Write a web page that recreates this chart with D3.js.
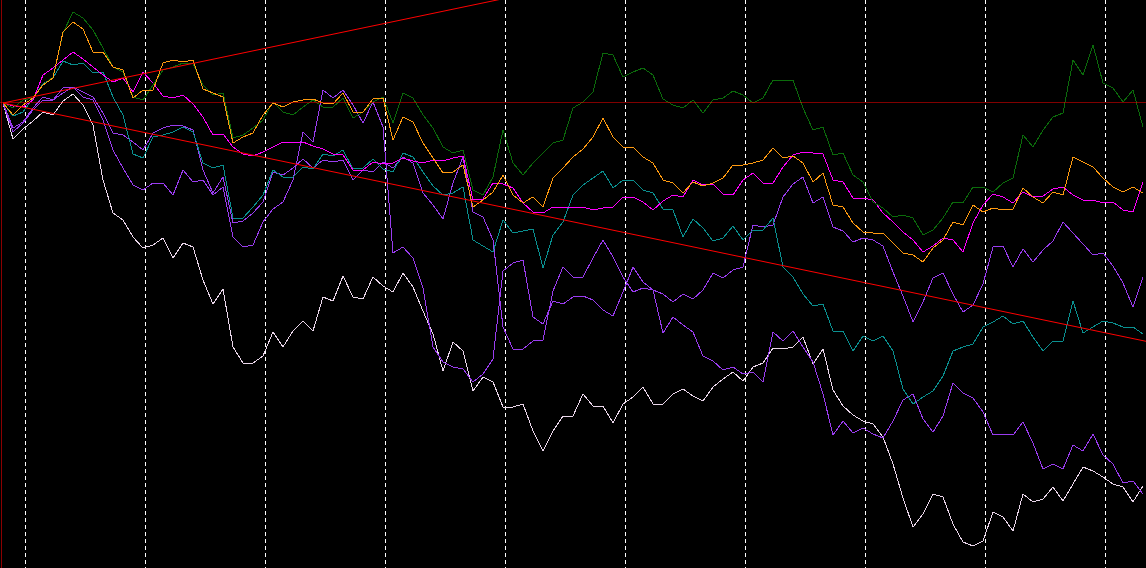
<!DOCTYPE html>
<html>
<style>
  body { margin: 0; background: #000; overflow: hidden; }
  .grid { stroke: #fff; stroke-width: 1; stroke-dasharray: 4,3; shape-rendering: crispEdges; }
  .series { fill: none; stroke-width: 1; shape-rendering: crispEdges; }
  .trend { stroke: #ff0000; stroke-width: 1; fill: none; }
  .zero { stroke: #ff0000; stroke-opacity: 0.5; stroke-width: 1; shape-rendering: crispEdges; }
</style>
<script src="https://d3js.org/d3.v7.min.js"></script>
<body>
<svg></svg>
<script>
// percent change from the start, one value every step (115 steps)
var green = [0,-0.5,0.3,0.5,1.8,2.6,7.0,9.1,8.5,7.3,5.5,3.6,3.1,0.6,0.3,1.8,3.3,3.6,4.0,
  3.9,1.8,0.8,1.0,-3.5,-3.2,-2.5,-1.7,0.1,-0.9,-1.2,-0.4,0.3,-0.4,-0.4,0.5,-1.5,-0.9,0.1,
  0.6,-2.0,1.0,0.5,-1.2,-2.5,-4.4,-5.0,-4.7,-8.7,-9.2,-7.4,-2.7,-6.0,-7.2,-6.0,-5.0,-4.0,-3.7,
  -0.5,0.1,1.1,5.0,4.8,2.6,3.1,3.5,2.8,0.4,-0.2,-0.5,0.3,-1.0,0.3,0.5,1.2,0.8,0.0,0.5,
  2.3,2.3,2.3,-0.5,-2.7,-2.4,-5.2,-5.0,-7.2,-7.9,-9.9,-10.5,-11.4,-11.2,-11.5,-13.2,-12.7,-11.5,-9.9,
  -10.0,-8.4,-8.4,-8.9,-8.0,-7.5,-3.2,-4.4,-2.7,-1.4,-1.0,4.3,2.8,5.8,2.0,1.5,0.1,1.3,-2.4];

var orange = [0,-1.2,-0.2,0.5,1.8,2.5,7.1,8.1,7.4,5.1,5.1,3.6,3.3,0.5,1.3,1.3,4.0,4.3,4.1,
  4.3,1.4,1.0,0.6,-4.0,-3.4,-3.0,-1.2,0.0,-0.4,0.1,0.3,0.4,0.0,-0.1,1.0,-0.9,-0.9,0.4,
  0.5,-3.7,-1.4,-1.9,-4.0,-5.5,-7.0,-6.9,-6.2,-10.4,-9.7,-8.9,-7.2,-9.2,-10.0,-9.4,-10.4,-7.5,-6.5,
  -5.4,-4.6,-3.4,-1.5,-3.4,-4.4,-4.4,-5.4,-6.0,-7.7,-8.0,-9.0,-7.9,-8.3,-8.0,-7.5,-6.2,-6.2,-6.0,-5.7,
  -4.5,-5.5,-5.3,-6.0,-7.9,-7.0,-10.2,-10.4,-12.0,-12.9,-13.0,-13.0,-14.0,-15.0,-15.2,-15.9,-14.5,-13.7,-11.9,
  -12.2,-10.2,-10.9,-10.5,-10.7,-10.6,-8.5,-9.4,-10.0,-8.9,-9.2,-5.4,-5.9,-6.4,-7.5,-8.4,-8.9,-8.4,-9.0];

var magenta = [0,-0.3,-0.4,0.3,2.8,3.5,4.3,5.1,4.4,3.6,2.8,2.1,2.5,1.1,3.1,2.0,0.7,0.5,0.8,
  -0.1,-1.4,-3.2,-3.1,-4.4,-5.1,-5.3,-4.9,-4.4,-3.9,-4.0,-3.9,-4.3,-4.6,-5.1,-5.2,-6.7,-6.7,-5.9,
  -6.1,-6.0,-5.5,-5.8,-6.0,-5.7,-5.8,-5.5,-5.3,-9.7,-9.6,-8.0,-8.1,-8.5,-10.0,-10.9,-11.0,-10.4,-10.5,
  -10.4,-10.4,-10.7,-10.5,-10.4,-9.4,-9.4,-9.9,-10.7,-9.8,-9.2,-9.4,-7.7,-8.2,-8.1,-9.1,-9.2,-7.7,-7.0,-8.0,
  -8.0,-6.4,-5.2,-4.9,-5.0,-5.1,-7.7,-7.9,-9.5,-9.5,-9.7,-11.0,-11.9,-12.9,-13.7,-14.9,-14.3,-13.5,-13.7,
  -14.9,-12.0,-10.2,-9.1,-9.4,-10.0,-8.9,-9.4,-9.3,-8.6,-8.4,-9.2,-9.7,-9.7,-10.0,-9.9,-10.7,-10.9,-7.9];

var teal = [0,-1.3,-0.9,0.5,1.9,2.5,4.2,3.8,4.0,3.0,3.1,0.6,-1.2,-5.1,-5.5,-3.4,-3.2,-2.9,-2.4,
  -2.9,-6.0,-6.5,-6.2,-11.5,-11.5,-10.4,-9.2,-6.7,-7.4,-7.4,-6.4,-6.6,-5.1,-5.3,-4.7,-6.6,-6.5,-5.6,
  -6.6,-6.9,-5.0,-5.4,-6.9,-8.3,-9.2,-9.0,-8.4,-13.7,-14.3,-14.9,-11.7,-13.0,-12.8,-12.6,-16.5,-13.2,-11.9,
  -9.2,-8.2,-7.5,-6.8,-8.5,-7.7,-7.7,-8.7,-9.0,-10.6,-10.7,-13.4,-11.6,-12.5,-13.8,-13.5,-12.3,-13.7,-12.7,-12.7,
  -11.5,-16.4,-17.4,-19.1,-20.3,-20.1,-22.8,-22.8,-24.8,-23.3,-23.8,-23.3,-24.8,-28.6,-30.1,-29.4,-28.8,-27.3,-24.8,
  -24.4,-24.1,-22.4,-21.9,-21.3,-22.1,-21.8,-23.4,-24.8,-23.8,-23.8,-19.8,-23.0,-22.4,-21.8,-22.0,-22.4,-22.4,-23.1];

var violetA = [0,-2.9,-2.0,-0.7,0.3,0.3,1.5,1.6,0.6,0.3,-1.7,-4.7,-6.5,-8.2,-8.7,-8.0,-8.0,-9.2,-6.7,
  -7.9,-7.7,-9.2,-8.4,-13.4,-14.4,-14.2,-11.9,-10.6,-9.9,-7.7,-2.9,-3.9,1.3,0.5,1.3,-0.2,-2.0,0.1,
  -2.4,-15.0,-14.4,-15.5,-18.5,-24.4,-25.9,-26.4,-26.6,-27.9,-27.1,-25.6,-16.8,-16.0,-15.7,-21.4,-22.1,-19.8,-20.1,
  -19.4,-19.3,-19.7,-20.7,-21.3,-18.9,-16.4,-17.9,-18.7,-23.0,-21.4,-22.2,-22.9,-25.3,-25.8,-26.7,-26.4,-27.1,-26.9,-27.9,
  -22.9,-23.8,-22.8,-24.4,-25.9,-29.1,-33.2,-31.8,-33.0,-32.5,-33.1,-33.5,-31.8,-29.7,-29.1,-31.6,-32.9,-31.3,-28.0,
  -29.0,-29.5,-30.9,-33.2,-33.1,-33.2,-31.9,-34.0,-36.6,-36.1,-36.6,-34.2,-34.8,-33.1,-35.2,-36.1,-38.0,-37.8,-39.1];

var violetB = [0,-2.5,-1.9,-0.5,0.6,0.3,1.0,1.6,1.1,0.6,-1.0,-3.0,-3.2,-3.9,-4.7,-3.0,-2.5,-2.2,-2.3,
  -2.7,-6.7,-9.0,-7.4,-12.0,-11.8,-11.0,-9.9,-6.9,-7.2,-6.5,-5.6,-6.5,-5.7,-5.9,-5.7,-7.7,-6.7,-6.9,
  -5.9,-6.5,-5.4,-6.0,-9.0,-10.2,-11.6,-8.0,-5.4,-10.9,-11.4,-13.7,-22.4,-24.6,-24.6,-23.8,-23.7,-18.8,-16.4,
  -17.4,-17.4,-15.5,-13.7,-15.4,-17.4,-18.9,-18.5,-18.7,-19.1,-19.9,-19.1,-19.6,-18.7,-17.0,-17.5,-16.7,-16.4,-12.2,-12.4,
  -12.2,-9.4,-8.1,-7.4,-10.0,-9.4,-12.4,-12.8,-13.9,-13.5,-13.7,-14.3,-16.9,-19.3,-21.9,-19.9,-17.5,-17.0,-19.1,
  -20.9,-20.2,-18.1,-14.4,-14.3,-16.4,-14.6,-15.9,-14.7,-13.8,-11.9,-13.0,-14.1,-15.2,-15.0,-16.3,-18.0,-20.4,-17.4];

var white = [0,-3.6,-2.6,-1.8,-0.9,-1.2,0.2,0.9,-0.2,-2.2,-7.7,-11.0,-11.7,-13.4,-14.5,-14.2,-13.5,-15.5,-14.0,
  -14.4,-17.7,-20.1,-18.6,-24.4,-26.0,-26.0,-25.3,-22.9,-24.4,-22.8,-21.8,-22.8,-19.4,-19.8,-17.3,-19.4,-19.6,-17.4,
  -18.3,-18.9,-17.0,-18.4,-20.8,-23.1,-26.8,-23.9,-24.8,-28.8,-27.4,-27.9,-30.4,-30.4,-30.1,-32.8,-34.8,-32.8,-31.3,
  -31.3,-29.1,-30.3,-30.3,-32.0,-30.1,-29.4,-28.4,-30.1,-30.1,-29.1,-28.6,-29.3,-29.8,-28.4,-27.6,-26.9,-27.8,-26.4,-26.0,
  -24.5,-24.6,-24.4,-23.4,-26.1,-24.6,-28.7,-30.3,-31.2,-31.8,-32.1,-33.4,-36.1,-39.5,-42.4,-41.1,-39.1,-39.4,-42.1,
  -43.9,-44.3,-43.8,-40.9,-41.4,-42.8,-39.1,-39.9,-39.6,-38.4,-39.8,-38.1,-36.4,-36.8,-37.4,-38.1,-38.4,-39.9,-38.3];

// period separators (in steps) and the trend channel
var periodMarks = [2.2, 14.2, 26.2, 38.2, 50.2, 62.2, 74.2, 86.2, 98.2, 110.2];
var lastStep = 114.3;
var channelEnd = [23.83, -23.83];

var width = 1146,
    height = 568;

var x = d3.scaleLinear().domain([0, lastStep]).range([3, width]),
    y = d3.scaleLinear().domain([-46.5, 10.3]).range([height, 0]);

var svg = d3.select("svg")
    .attr("width", width)
    .attr("height", height)
    .style("display", "block")
    .style("background", "#000");

svg.append("line")
    .attr("x1", 1.5).attr("x2", 1.5)
    .attr("y1", 0).attr("y2", height)
    .style("stroke", "#8b0000")
    .style("shape-rendering", "crispEdges");

svg.selectAll(".grid")
    .data(periodMarks)
  .enter().append("line")
    .attr("class", "grid")
    .attr("x1", function(d) {return Math.round(x(d)) + 0.5})
    .attr("x2", function(d) {return Math.round(x(d)) + 0.5})
    .attr("y1", 0)
    .attr("y2", height);

var line = d3.line()
    .x(function(d, i) {return x(i)})
    .y(function(d) {return y(d)});

var series = [
  {values: white, color: "#ead6ea"},
  {values: violetA, color: "#9a3cf0"},
  {values: violetB, color: "#9a3cf0"},
  {values: teal, color: "#0a9090"},
  {values: magenta, color: "#ff00ff"},
  {values: green, color: "#0b6b0b"},
  {values: orange, color: "#ff9a10"}
];

svg.selectAll(".series")
    .data(series)
  .enter().append("path")
    .attr("class", "series")
    .style("stroke", function(d) {return d.color})
    .attr("d", function(d) {return line(d.values)});

// zero line
svg.append("line")
    .attr("class", "zero")
    .attr("x1", 0).attr("x2", width)
    .attr("y1", Math.floor(y(0)) + 0.5)
    .attr("y2", Math.floor(y(0)) + 0.5);

svg.selectAll(".channel")
    .data(channelEnd)
  .enter().append("line")
    .attr("class", "trend channel")
    .attr("x1", x(0)).attr("y1", y(0))
    .attr("x2", x(lastStep))
    .attr("y2", function(d) {return y(d)});
</script>
</body>
</html>
